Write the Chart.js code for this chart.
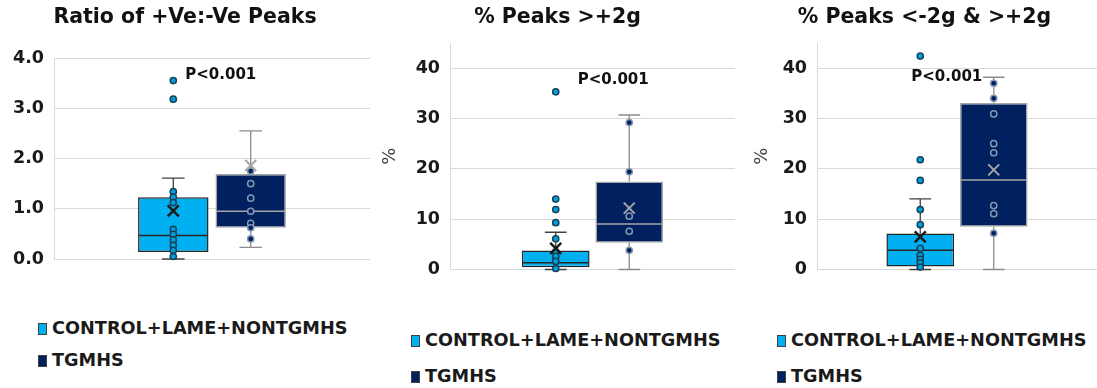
<!DOCTYPE html>
<html>
<head>
<meta charset="UTF-8">
<title>Peaks box plots</title>
<script src="https://cdn.jsdelivr.net/npm/chart.js@4.4.0/dist/chart.umd.min.js"></script>
<style>
  body { margin: 0; background: #fff; }
  #wrap { position: relative; width: 1097px; height: 388px; overflow: hidden; font-family: "DejaVu Sans", sans-serif; }
  canvas { position: absolute; top: 0; }
  .item { position: absolute; white-space: nowrap; font-weight: bold; font-size: 17.7px; color: #1a1a1a; line-height: 20px; }
  .sw { display: inline-block; width: 9px; height: 12px; border: 1px solid #404040; box-sizing: border-box; margin-right: 5px; vertical-align: -1px; }
</style>
</head>
<body>
<div id="wrap">
  <canvas id="c1" width="372" height="290" style="left:0px"></canvas>
  <canvas id="c2" width="358" height="290" style="left:380px"></canvas>
  <canvas id="c3" width="345" height="290" style="left:752px"></canvas>
</div>
<script>
const groups = ['CONTROL+LAME+NONTGMHS', 'TGMHS'];
const titles = ['Ratio of +Ve:-Ve Peaks', '% Peaks >+2g', '% Peaks <-2g & >+2g'];
const pText = 'P<0.001';

// box stats: min, q1, median, q3, max
const ratioCtrlBox = [0.0, 0.14, 0.47, 1.23, 1.61];
const ratioTgBox = [0.23, 0.62, 0.95, 1.69, 2.55];
const ratioMeans = [0.96, 1.86];
const ratioCtrlPts = [3.55, 3.18, 1.34, 1.23, 1.12, 0.59, 0.49, 0.38, 0.27, 0.17, 0.05];
const ratioTgPts = [1.75, 1.50, 1.21, 0.95, 0.71, 0.62, 0.40];
const ratioTicks = [0, 1, 2, 3, 4];

const posCtrlBox = [0.0, 0.47, 1.33, 3.76, 7.4];
const posTgBox = [0.0, 5.3, 9.05, 17.5, 30.7];
const posMeans = [4.2, 12.2];
const posCtrlPts = [35.3, 14.0, 11.9, 9.3, 6.1, 3.5, 2.6, 1.6, 0.2];
const posTgPts = [29.2, 19.4, 10.6, 7.6, 3.8];

const bothCtrlBox = [0.0, 0.6, 3.8, 7.15, 14.05];
const bothTgBox = [0.0, 8.5, 17.8, 33.1, 38.2];
const bothMeans = [6.5, 19.8];
const bothCtrlPts = [42.4, 21.8, 17.7, 11.9, 8.9, 4.2, 2.8, 2.0, 1.3, 0.5];
const bothTgPts = [37.0, 34.0, 30.9, 25.0, 23.2, 12.7, 11.1, 7.2];
const pctTicks = [0, 10, 20, 30, 40];

const pLabelY = [3.66, 37.6, 38.3];

const styles = [
  { fill: '#00B0F0', line: '#262626', whisker: '#404040', ptFill: '#00A0DC', ptLine: '#15415A', mean: '#1a1a1a', meanW: 2.5 },
  { fill: '#002060', line: '#A6A6A6', whisker: '#8C8C8C', ptFill: '#002060', ptLine: '#8497B0', mean: '#A6A6A6', meanW: 2 }
];

const boxExtras = {
  id: 'boxExtras',
  afterDatasetsDraw(chart) {
    const ctx = chart.ctx, y = chart.scales.y;
    chart.data.datasets.forEach((ds, i) => {
      const bar = chart.getDatasetMeta(i).data[0];
      const st = styles[i];
      const x = bar.x, half = bar.width / 2, cap = bar.width * 0.16;
      const [mn, q1, med, q3, mx] = ds.stats.map(v => y.getPixelForValue(v));
      ctx.save();
      // whiskers
      ctx.strokeStyle = st.whisker;
      ctx.lineWidth = 1.3;
      ctx.beginPath();
      ctx.moveTo(x, q3); ctx.lineTo(x, mx);
      ctx.moveTo(x, q1); ctx.lineTo(x, mn);
      ctx.moveTo(x - cap, mx); ctx.lineTo(x + cap, mx);
      ctx.moveTo(x - cap, mn); ctx.lineTo(x + cap, mn);
      ctx.stroke();
      // median
      ctx.strokeStyle = st.line;
      ctx.lineWidth = 1.5;
      ctx.beginPath();
      ctx.moveTo(x - half + 1, med); ctx.lineTo(x + half - 1, med);
      ctx.stroke();
      // points
      ctx.fillStyle = st.ptFill;
      ctx.strokeStyle = st.ptLine;
      ctx.lineWidth = 1.5;
      ds.points.forEach(v => {
        ctx.beginPath();
        ctx.arc(x, y.getPixelForValue(v), 3.1, 0, Math.PI * 2);
        ctx.fill();
        ctx.stroke();
      });
      // mean marker
      const my = y.getPixelForValue(ds.mean), s = 5.5;
      ctx.strokeStyle = st.mean;
      ctx.lineWidth = st.meanW;
      ctx.beginPath();
      ctx.moveTo(x - s, my - s); ctx.lineTo(x + s, my + s);
      ctx.moveTo(x - s, my + s); ctx.lineTo(x + s, my - s);
      ctx.stroke();
      ctx.restore();
    });
    // p value
    const o = chart.options.plugins.boxExtras;
    const ctrl = chart.getDatasetMeta(0).data[0];
    ctx.save();
    ctx.font = 'bold 15px "DejaVu Sans"';
    ctx.fillStyle = '#111';
    ctx.textBaseline = 'middle';
    ctx.fillText(pText, ctrl.x + o.pDx, y.getPixelForValue(o.pY));
    ctx.restore();
  }
};

function makeChart(id, title, boxes, means, pts, ticks, max, fmt, o) {
  const datasets = [0, 1].map(g => ({
    label: groups[g],
    data: [[boxes[g][1], boxes[g][3]]],
    stats: boxes[g],
    mean: means[g],
    points: pts[g],
    backgroundColor: styles[g].fill,
    borderColor: styles[g].line,
    borderWidth: 1.5,
    borderSkipped: false,
    barPercentage: o.bp,
    categoryPercentage: o.cp
  }));
  return new Chart(document.getElementById(id), {
    type: 'bar',
    data: { labels: [''], datasets: datasets },
    options: {
      responsive: false,
      animation: false,
      events: [],
      layout: { padding: { left: 0, right: o.padR, top: 0, bottom: o.padB } },
      plugins: {
        legend: { display: false },
        tooltip: { enabled: false },
        title: {
          display: true, text: title, color: '#111',
          font: { family: 'DejaVu Sans', size: 20.5, weight: 'bold' },
          padding: { top: 5, bottom: o.titleB }
        },
        boxExtras: { pDx: o.pDx, pY: o.pY }
      },
      scales: {
        x: { display: false },
        y: {
          min: 0, max: max,
          afterBuildTicks: axis => { axis.ticks = ticks.map(v => ({ value: v })); },
          afterFit: s => { s.width = o.axisW; },
          grid: { color: '#D9D9D9', drawTicks: false },
          border: { color: '#D9D9D9' },
          ticks: {
            padding: 10, color: '#1a1a1a',
            font: { family: 'DejaVu Sans', size: 17.5, weight: 'bold' },
            callback: v => fmt(v)
          },
          title: {
            display: o.yTitle, text: '%', color: '#404040',
            font: { family: 'DejaVu Sans', size: 18 },
            padding: { top: 0, bottom: 0 }
          }
        }
      }
    },
    plugins: [boxExtras]
  });
}

makeChart('c1', titles[0], [ratioCtrlBox, ratioTgBox], ratioMeans, [ratioCtrlPts, ratioTgPts],
  ratioTicks, 4, v => v.toFixed(1),
  { bp: 0.91, cp: 0.49, padR: 2, padB: 31, titleB: 28.4, axisW: 54, yTitle: false, pDx: 12, pY: pLabelY[0] });
makeChart('c2', titles[1], [posCtrlBox, posTgBox], posMeans, [posCtrlPts, posTgPts],
  pctTicks, 45, v => String(v),
  { bp: 0.92, cp: 0.516, padR: 3, padB: 18.3, titleB: 13.4, axisW: 70, yTitle: true, pDx: 22, pY: pLabelY[1] });
makeChart('c3', titles[2], [bothCtrlBox, bothTgBox], bothMeans, [bothCtrlPts, bothTgPts],
  pctTicks, 45, v => String(v),
  { bp: 0.92, cp: 0.525, padR: 0, padB: 18.3, titleB: 13.4, axisW: 65, yTitle: true, pDx: -9, pY: pLabelY[2] });

// legends below each panel
const legendPos = [
  { x: 38, ys: [328, 360] },
  { x: 411, ys: [340, 376] },
  { x: 777, ys: [340, 376] }
];
const wrap = document.getElementById('wrap');
legendPos.forEach(p => {
  groups.forEach((g, i) => {
    const d = document.createElement('div');
    d.className = 'item';
    d.style.left = p.x + 'px';
    d.style.top = (p.ys[i] - 10) + 'px';
    const sw = document.createElement('span');
    sw.className = 'sw';
    sw.style.background = styles[i].fill;
    d.appendChild(sw);
    d.appendChild(document.createTextNode(g));
    wrap.appendChild(d);
  });
});
</script>
</body>
</html>
